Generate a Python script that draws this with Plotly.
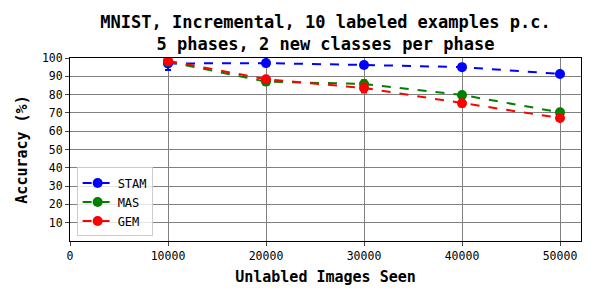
import plotly.graph_objects as go

x_seen = [10000, 20000, 30000, 40000, 50000]
stam = [97.0, 97.2, 96.2, 95.0, 91.3]
stam_err = [3.5, 0.5, 0.5, 0.6, 0.8]
mas = [98.0, 87.1, 85.8, 79.8, 70.3]
mas_err = [0.8, 1.0, 2.0, 0.8, 0.8]
gem = [98.5, 88.4, 83.6, 75.3, 67.2]
gem_err = [1.0, 0.8, 2.5, 1.8, 1.2]
x_ticks = [0, 10000, 20000, 30000, 40000, 50000]
y_ticks = [10, 20, 30, 40, 50, 60, 70, 80, 90, 100]

series = [("STAM", stam, stam_err, "blue"), ("MAS", mas, mas_err, "green"), ("GEM", gem, gem_err, "red")]

fig = go.Figure()
for name, ys, es, col in series:
    fig.add_trace(go.Scatter(
        x=x_seen, y=ys, name=name, mode="lines+markers",
        line=dict(color=col, dash="dash", width=2),
        marker=dict(color=col, size=10),
        error_y=dict(type="data", array=es, color=col, thickness=2, width=3),
    ))

font = "DejaVu Sans Mono"
# page has an 8px body margin: figure drawn at 592x292 to fit the window
W, H = 592, 292
fig.update_layout(
    width=W, height=H,
    margin=dict(l=62, r=19, t=50, b=59, autoexpand=False),
    plot_bgcolor="white", paper_bgcolor="white",
    title=dict(text="<b>MNIST, Incremental, 10 labeled examples p.c.<br>5 phases, 2 new classes per phase</b>",
               x=0.5, xref="paper", xanchor="center", y=1 - 19.5 / H, yref="container", yanchor="middle",
               automargin=False,
               font=dict(family=font, size=17, color="black")),
    font=dict(family=font, size=11.5, color="black"),
    showlegend=True,
    legend=dict(x=0.013, y=0.025, xanchor="left", yanchor="bottom",
                bgcolor="rgba(255,255,255,0.8)", bordercolor="#cccccc", borderwidth=1,
                tracegroupgap=0, itemwidth=30,
                font=dict(family=font, size=12)),
)
fig.update_xaxes(range=[0, 52143], tickvals=x_ticks, ticktext=[str(v) for v in x_ticks],
                 automargin=False,
                 showgrid=True, gridcolor="grey", gridwidth=1,
                 showline=True, linecolor="black", linewidth=1, mirror=True,
                 ticks="outside", ticklen=4, zeroline=False,
                 title=dict(text="<b>Unlabled Images Seen</b>", font=dict(family=font, size=15), standoff=9))
fig.update_yaxes(range=[0, 100], tickvals=y_ticks,
                 automargin=False,
                 showgrid=True, gridcolor="grey", gridwidth=1,
                 showline=True, linecolor="black", linewidth=1, mirror=True,
                 ticks="outside", ticklen=4, zeroline=False,
                 title=dict(text="<b>Accuracy (%)</b>", font=dict(family=font, size=15), standoff=10))

fig.write_html("out.html")
